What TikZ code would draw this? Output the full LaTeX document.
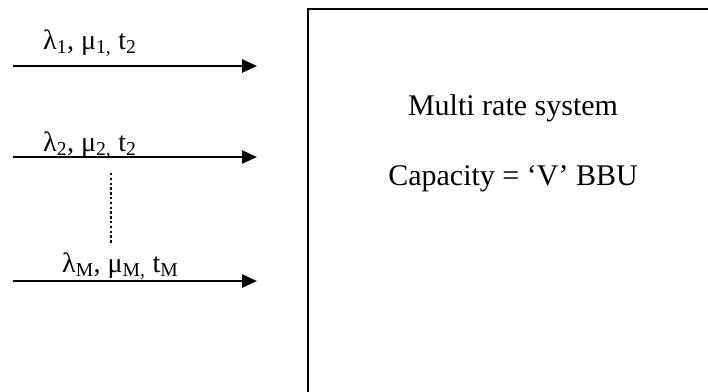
\documentclass[tikz,border=0pt]{standalone}
\usepackage{fontspec}
\setmainfont{Liberation Serif}
\usetikzlibrary{arrows.meta}

\tikzset{
  flow/.style={line width=2.6pt, -{Triangle[length=15pt,width=13pt]}},
  rate/.style={anchor=base west, inner sep=0pt, font=\fontsize{28}{32}\selectfont},
  body/.style={anchor=base, inner sep=0pt, font=\fontsize{30}{36}\selectfont},
  frame/.style={draw, line width=2pt},
  gap/.style={line width=2.6pt, dash pattern=on 2.4pt off 2.4pt}
}

\begin{document}
\begin{tikzpicture}[x=1pt, y=-1pt]
  \useasboundingbox (0,0) rectangle (708,391);
  \clip (0,0) rectangle (708,391);

  % the multi rate system block (runs past the right and lower edges)
  \node[frame, anchor=north west, minimum width=440pt, minimum height=420pt,
        inner sep=0pt] (system) at (307,8) {};
  \node[body] (title) at (513,115) {Multi rate system};
  \node[body] (cap) at (513,185) {Capacity = ‘V’ BBU};

  % arrival streams
  \coordinate (s1) at (13,66);  \coordinate (e1) at (257,66);
  \coordinate (s2) at (13,157); \coordinate (e2) at (257,157);
  \coordinate (s3) at (13,281); \coordinate (e3) at (257,281);
  \draw[flow] (s1) -- (e1);
  \draw[flow] (s2) -- (e2);
  \draw[flow] (s3) -- (e3);

  \node[rate] (l1) at (43,49) {λ\textsubscript{1}, μ\textsubscript{1,} t\textsubscript{2}};
  \node[rate] (l2) at (43,151) {λ\textsubscript{2}, μ\textsubscript{2,} t\textsubscript{2}};
  \node[rate] (l3) at (62,272) {λ\textsubscript{M}, μ\textsubscript{M,} t\textsubscript{M}};

  % dotted continuation between stream 2 and stream M
  \coordinate (d1) at (111,173);
  \coordinate (d2) at (111,245);
  \draw[gap] (d1) -- (d2);
\end{tikzpicture}
\end{document}
